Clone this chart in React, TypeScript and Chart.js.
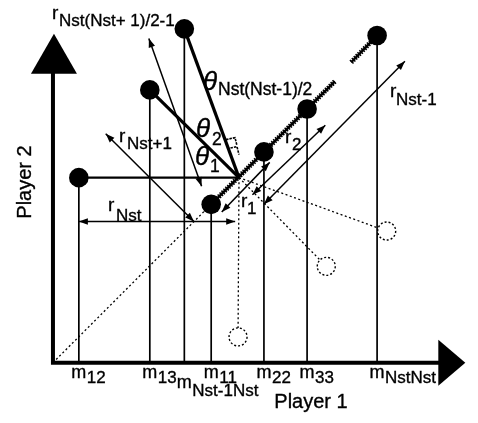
import React, { useEffect, useRef } from 'react';
import { Chart, registerables } from 'chart.js';
Chart.register(...registerables);

// ---- data (diagram units; origin at the axes corner) ----
const markSubs = ['12', '13', 'Nst-1Nst', '11', '22', '33', 'NstNst'];
const markX = [27, 101, 137, 165, 220, 265, 338];
const markY = [194, 286, 350, 166, 221, 266, 343];
// indices of off-diagonal marks that are joined to the pivot
const spokeFrom = [0, 1, 2];
const pivotX = 194;
const pivotY = 194;
// rotated (ghost) positions
const ghostX = [193, 285, 348];
const ghostY = [27, 101, 138];
// distance arrows r_k
const arrowSubs = ['Nst', 'Nst+1', 'Nst(Nst+ 1)/2-1', '1', '2', 'Nst-1'];
const arrowX1 = [27, 55, 100, 176, 208, 220];
const arrowY1 = [148, 240, 340, 158, 176, 166];
const arrowX2 = [190, 147, 155, 226, 284, 367];
const arrowY2 = [148, 148, 185, 210, 249, 316];
// angle labels θ_k
const angleSubs = ['1', '2', 'Nst(Nst-1)/2'];
// diagonal (hatched) segments
const hatchX1 = [165, 311];
const hatchY1 = [166, 315];
const hatchX2 = [294, 338];
const hatchY2 = [295, 343];
const axisXMax = 430;
const axisYMax = 345;
const xTitle = 'Player 1';
const yTitle = 'Player 2';

// ---- layout (pixel offsets for labels) ----
const FONT = '"Liberation Sans", Arial, sans-serif';
const arrowLabelPos = [
  [108, 211, 116, 221],
  [119, 142, 127, 149],
  [52, 19, 59, 26],
  [241, 207, 247, 214],
  [285, 143, 292, 150],
  [390, 97, 396, 105],
];
const angleLabelPos = [
  [195, 165, 210, 172],
  [196, 137, 212, 145],
  [203, 90, 218, 95],
];

function line(x1: number, y1: number, x2: number, y2: number, w: number, dash: number[] = []) {
  return {
    type: 'scatter' as const,
    data: [{ x: x1, y: y1 }, { x: x2, y: y2 }],
    showLine: true,
    pointRadius: 0,
    borderColor: '#000',
    backgroundColor: '#000',
    borderWidth: w,
    borderDash: dash,
    borderCapStyle: 'butt' as const,
  };
}

function head(ctx: CanvasRenderingContext2D, x1: number, y1: number, x2: number, y2: number) {
  const a = Math.atan2(y2 - y1, x2 - x1);
  const L = 9, W = 3.3;
  ctx.beginPath();
  ctx.moveTo(x2, y2);
  ctx.lineTo(x2 - L * Math.cos(a) + W * Math.sin(a), y2 - L * Math.sin(a) - W * Math.cos(a));
  ctx.lineTo(x2 - L * Math.cos(a) - W * Math.sin(a), y2 - L * Math.sin(a) + W * Math.cos(a));
  ctx.closePath();
  ctx.fill();
}

function subText(ctx: CanvasRenderingContext2D, main: string, sub: string, p: number[], mainFont: string, subFont: string) {
  ctx.textAlign = 'left';
  ctx.textBaseline = 'alphabetic';
  ctx.font = mainFont;
  ctx.fillText(main, p[0], p[1]);
  ctx.strokeText(main, p[0], p[1]);
  ctx.font = subFont;
  ctx.fillText(sub, p[2], p[3]);
  ctx.strokeText(sub, p[2], p[3]);
}

const diagramPlugin = {
  id: 'diagram',
  afterDatasetsDraw(chart: any) {
    const ctx: CanvasRenderingContext2D = chart.ctx;
    const xs = chart.scales.x, ys = chart.scales.y;
    const px = (v: number) => xs.getPixelForValue(v);
    const py = (v: number) => ys.getPixelForValue(v);
    ctx.save();
    ctx.fillStyle = '#000';
    ctx.strokeStyle = '#000';

    // ghost circles
    for (let i = 0; i < ghostX.length; i++) {
      ctx.beginPath();
      ctx.arc(px(ghostX[i]), py(ghostY[i]), 9, 0, Math.PI * 2);
      ctx.fillStyle = '#fff';
      ctx.fill();
      ctx.setLineDash([2, 2]);
      ctx.lineWidth = 1.4;
      ctx.stroke();
    }
    ctx.setLineDash([]);
    ctx.fillStyle = '#000';

    // arrowheads
    for (let i = 0; i < arrowX1.length; i++) {
      const a = [px(arrowX1[i]), py(arrowY1[i])];
      const b = [px(arrowX2[i]), py(arrowY2[i])];
      head(ctx, a[0], a[1], b[0], b[1]);
      head(ctx, b[0], b[1], a[0], a[1]);
    }

    // right-angle marks near pivot
    ctx.lineWidth = 1.6;
    ctx.setLineDash([2.5, 1]);
    const cx = px(pivotX), cy = py(pivotY);
    const marks = [
      [[-13, -38], [-4, -40], [-2, -32]],
      [[-12, -29], [-2, -31], [0, -23]],
    ];
    for (const m of marks) {
      ctx.beginPath();
      ctx.moveTo(cx + m[0][0], cy + m[0][1]);
      ctx.lineTo(cx + m[1][0], cy + m[1][1]);
      ctx.lineTo(cx + m[2][0], cy + m[2][1]);
      ctx.stroke();
    }
    ctx.setLineDash([]);

    // axes
    const ox = px(0), oy = py(0);
    const xt = px(axisXMax), yt = py(axisYMax);
    ctx.lineWidth = 4;
    ctx.beginPath();
    ctx.moveTo(ox, oy + 2);
    ctx.lineTo(ox, yt + 38);
    ctx.moveTo(ox - 2, oy);
    ctx.lineTo(xt - 25, oy);
    ctx.stroke();
    ctx.beginPath();
    ctx.moveTo(ox + 1, yt);
    ctx.lineTo(ox + 24, yt + 40);
    ctx.lineTo(ox - 22, yt + 40);
    ctx.closePath();
    ctx.fill();
    ctx.beginPath();
    ctx.moveTo(xt, oy);
    ctx.lineTo(xt - 27, oy - 23);
    ctx.lineTo(xt - 27, oy + 23);
    ctx.closePath();
    ctx.fill();

    ctx.lineWidth = 0.35;
    // tick labels m_ij
    for (let i = 0; i < markX.length; i++) {
      const x = px(markX[i]);
      const low = markSubs[i] === 'Nst-1Nst';
      const mb = oy + (low ? 25 : 15);
      const sb = oy + (low ? 33 : 20);
      ctx.font = `18px ${FONT}`;
      const mw = ctx.measureText('m').width;
      subText(ctx, 'm', markSubs[i], [x - mw / 2, mb, x + mw / 2 + 0.5, sb], `18px ${FONT}`, `17px ${FONT}`);
    }

    // arrow labels r_k
    for (let i = 0; i < arrowSubs.length; i++) {
      subText(ctx, 'r', arrowSubs[i], arrowLabelPos[i], `19px ${FONT}`, `17px ${FONT}`);
    }
    // angle labels θ_k
    for (let i = 0; i < angleSubs.length; i++) {
      subText(ctx, 'θ', angleSubs[i], angleLabelPos[i], `italic 26px ${FONT}`, `17.5px ${FONT}`);
    }

    // axis titles
    ctx.font = `20px ${FONT}`;
    ctx.textAlign = 'center';
    ctx.textBaseline = 'alphabetic';
    ctx.fillText(xTitle, 311, oy + 45);
    ctx.strokeText(xTitle, 311, oy + 45);
    ctx.save();
    ctx.translate(31, 182);
    ctx.rotate(-Math.PI / 2);
    ctx.fillText(yTitle, 0, 0);
    ctx.strokeText(yTitle, 0, 0);
    ctx.restore();

    ctx.restore();
  },
};

export default function App() {
  const ref = useRef<HTMLCanvasElement>(null);
  useEffect(() => {
    if (!ref.current) return;
    const datasets: any[] = [];
    // dotted diagonal from origin to m11
    datasets.push(line(0, 0, markX[3], markY[3], 1.3, [2, 2.5]));
    // dotted lines pivot -> ghosts
    for (let i = 0; i < ghostX.length; i++) datasets.push(line(pivotX, pivotY, ghostX[i], ghostY[i], 1.3, [2, 2.5]));
    // stems
    for (let i = 0; i < markX.length; i++) datasets.push(line(markX[i], markY[i], markX[i], 0, 1.7));
    // spokes
    spokeFrom.forEach((k, j) => datasets.push(line(markX[k], markY[k], pivotX, pivotY, j === 0 ? 2.3 : 3.2)));
    // hatched diagonal
    for (let i = 0; i < hatchX1.length; i++) {
      datasets.push(line(hatchX1[i], hatchY1[i], hatchX2[i], hatchY2[i], 2.5));
      datasets.push(line(hatchX1[i], hatchY1[i], hatchX2[i], hatchY2[i], 5, [1.5, 1.2]));
    }
    // arrows
    for (let i = 0; i < arrowX1.length; i++) datasets.push(line(arrowX1[i], arrowY1[i], arrowX2[i], arrowY2[i], 1.5));
    // marks
    datasets.push({
      type: 'scatter',
      data: markX.map((x, i) => ({ x, y: markY[i] })),
      pointRadius: 9.8,
      pointBackgroundColor: '#000',
      pointBorderColor: '#000',
      pointBorderWidth: 0,
      showLine: false,
    });
    const chart = new Chart(ref.current, {
      type: 'scatter',
      data: { datasets },
      options: {
        animation: false,
        responsive: false,
        events: [],
        layout: { padding: 0 },
        plugins: { legend: { display: false }, tooltip: { enabled: false } },
        scales: {
          x: { type: 'linear', min: -45, max: 433, display: false },
          y: { type: 'linear', min: -53, max: 370, display: false },
        },
      },
      plugins: [diagramPlugin],
    } as any);
    return () => chart.destroy();
  }, []);
  return (
    <div style={{ position: 'fixed', left: 0, top: 0, width: 478, height: 423, background: '#fff' }}>
      <canvas ref={ref} width={478} height={423} style={{ width: 478, height: 423, display: 'block' }} />
    </div>
  );
}
